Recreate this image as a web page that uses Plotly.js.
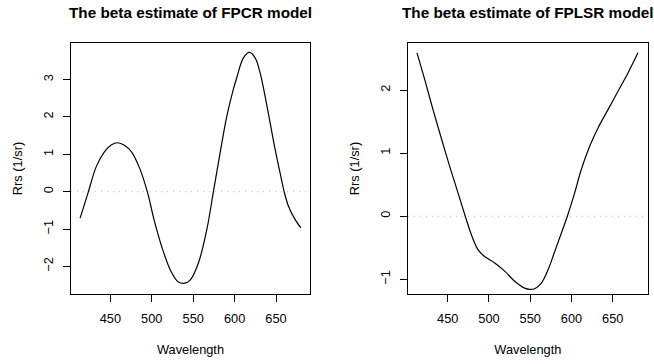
<!DOCTYPE html>
<html>
<head>
<meta charset="utf-8">
<script src="https://cdn.plot.ly/plotly-3.0.1.min.js"></script>
<style>html,body{margin:0;padding:0;background:#fff;}#chart{width:654px;height:364px;}</style>
</head>
<body>
<div id="chart"></div>
<script>
// Wavelengths (nm) and beta estimates
const fpcrWl   = [413.5, 423, 433, 443, 451, 459, 467, 475.3, 485.3, 494.6, 503.1, 513.3, 523.3, 531.7, 540, 546.3, 556.3, 566.4, 574.4, 582.5, 590.6, 598.6, 602.6, 610.6, 617.9, 624.8, 630.8, 636.8, 642.9, 648.9, 654.9, 659.8, 665, 673.1, 680];
const fpcrBeta = [-0.71, -0.04, 0.67, 1.07, 1.25, 1.31, 1.24, 1.07, 0.63, 0, -0.78, -1.56, -2.14, -2.41, -2.45, -2.37, -1.91, -1.02, 0, 1.04, 2.02, 2.75, 3.05, 3.58, 3.73, 3.58, 3.18, 2.55, 1.84, 1.13, 0.50, 0, -0.39, -0.75, -0.97];

const fplsrWl   = [412.8, 422.1, 432.2, 442.2, 452.4, 462.5, 471.3, 478.6, 486.7, 494.8, 507, 519.1, 531.2, 543.3, 549, 555.4, 563.5, 571.6, 579.7, 587.7, 595, 603.9, 611.9, 622.1, 632.2, 644.3, 656.4, 668.5, 680.6];
const fplsrBeta = [2.59, 2.17, 1.69, 1.24, 0.79, 0.37, 0, -0.29, -0.53, -0.64, -0.74, -0.87, -1.03, -1.14, -1.16, -1.15, -1.06, -0.85, -0.56, -0.27, 0, 0.37, 0.74, 1.11, 1.40, 1.69, 1.98, 2.27, 2.59];

const titles = ["The beta estimate of FPCR model", "The beta estimate of FPLSR model"];
const xLabel = "Wavelength";
const yLabel = "Rrs (1/sr)";

const FONT = "Liberation Sans, Arial, Helvetica, sans-serif";

const traces = [
  {x: fpcrWl, y: fpcrBeta, xaxis: 'x', yaxis: 'y', type: 'scatter', mode: 'lines',
   line: {color: '#000', width: 1.2, shape: 'spline', smoothing: 1}, hoverinfo: 'skip'},
  {x: fplsrWl, y: fplsrBeta, xaxis: 'x2', yaxis: 'y2', type: 'scatter', mode: 'lines',
   line: {color: '#000', width: 1.2, shape: 'spline', smoothing: 1}, hoverinfo: 'skip'}
];

function xax(domain, range, anchor) {
  return {
    domain: domain, range: range, anchor: anchor,
    showgrid: false, zeroline: false, showline: true, mirror: true,
    linecolor: '#000', linewidth: 1,
    ticks: 'outside', ticklen: 7, tickwidth: 1, tickcolor: '#000',
    tick0: 450, dtick: 50, ticklabelstandoff: 6,
    tickfont: {family: FONT, size: 12.8, color: '#000'},
    title: {text: xLabel, font: {family: FONT, size: 12.8, color: '#000'}, standoff: 19}
  };
}
function yax(domain, range, anchor) {
  return {
    domain: domain, range: range, anchor: anchor,
    showgrid: false, zeroline: false, showline: true, mirror: true,
    linecolor: '#000', linewidth: 1,
    ticks: 'outside', ticklen: 7, tickwidth: 1, tickcolor: '#000',
    tick0: 0, dtick: 1, tickangle: -90, ticklabelstandoff: 5,
    tickfont: {family: FONT, size: 12.8, color: '#000'},
    title: {text: yLabel, font: {family: FONT, size: 12.8, color: '#000'}, standoff: 15}
  };
}

const yDom = [1 - 294/364, 1 - 43/364];

const layout = {
  width: 654, height: 364,
  margin: {l: 0, r: 0, t: 0, b: 0},
  paper_bgcolor: '#fff', plot_bgcolor: '#fff',
  showlegend: false,
  xaxis:  xax([71/654, 310/654], [402.5, 691], 'y'),
  yaxis:  yax(yDom, [-2.74, 3.98], 'x'),
  xaxis2: xax([408/654, 647.7/654], [401.9, 692.4], 'y2'),
  yaxis2: yax(yDom, [-1.233, 2.746], 'x2'),
  shapes: [
    {type: 'line', xref: 'x domain', yref: 'y', x0: 0, x1: 1, y0: 0, y1: 0,
     line: {color: '#BEBEBE', width: 1, dash: '1px,5px'}},
    {type: 'line', xref: 'x2 domain', yref: 'y2', x0: 0, x1: 1, y0: 0, y1: 0,
     line: {color: '#BEBEBE', width: 1, dash: '1px,5px'}}
  ],
  annotations: [
    {text: '<b>' + titles[0] + '</b>', xref: 'paper', yref: 'paper',
     x: 190.5/654, y: 1 - 12.5/364, xanchor: 'center', yanchor: 'middle', showarrow: false,
     font: {family: FONT, size: 15.3, color: '#000'}},
    {text: '<b>' + titles[1] + '</b>', xref: 'paper', yref: 'paper',
     x: 527.8/654, y: 1 - 12.5/364, xanchor: 'center', yanchor: 'middle', showarrow: false,
     font: {family: FONT, size: 15.3, color: '#000'}}
  ]
};

Plotly.newPlot('chart', traces, layout, {staticPlot: true, displayModeBar: false});
</script>
</body>
</html>
